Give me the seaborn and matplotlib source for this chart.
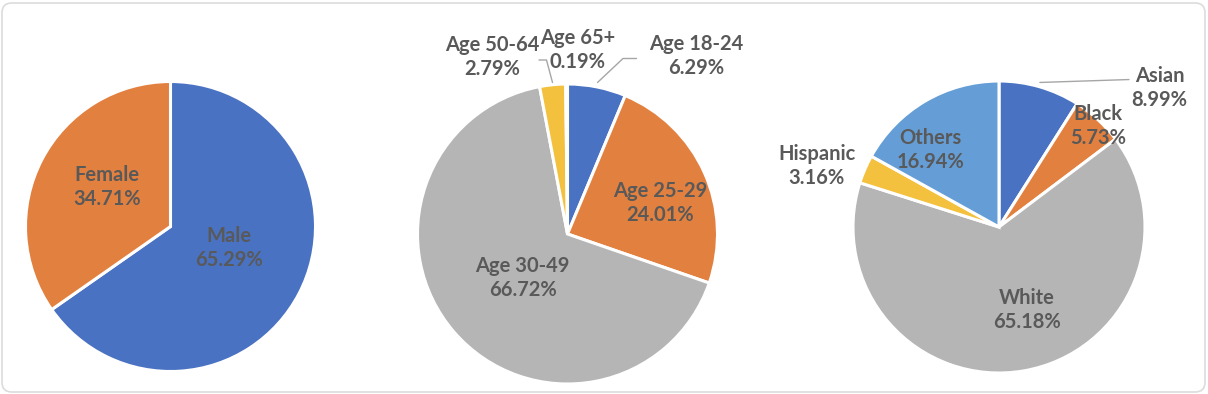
import numpy as np
import matplotlib
matplotlib.use("Agg")
import matplotlib.pyplot as plt
import seaborn as sns
from matplotlib.patches import FancyBboxPatch

sns.set_theme(style="white")
plt.rcParams["font.family"] = ["Lato", "DejaVu Sans"]

# data
gender_labels = ["Male", "Female"]
gender_values = [65.29, 34.71]

age_labels = ["Age 18-24", "Age 25-29", "Age 30-49", "Age 50-64", "Age 65+"]
age_values = [6.29, 24.01, 66.72, 2.79, 0.19]

race_labels = ["Asian", "Black", "White", "Hispanic", "Others"]
race_values = [8.99, 5.73, 65.18, 3.16, 16.94]

# office-ish colours
blue, orange, gray, yellow, lblue = "#4A72C2", "#E2803F", "#B5B5B5", "#F4C13E", "#659ED6"
gender_colors = [blue, orange]
age_colors = [blue, orange, gray, yellow, lblue]
race_colors = [blue, orange, gray, yellow, lblue]

# label positions (axes data units, pie radius = 1)
gender_pos = [(0.40, -0.15), (-0.44, 0.27)]
age_pos = [(0.86, 1.19), (0.62, 0.21), (-0.30, -0.29), (-0.50, 1.18), (0.07, 1.23)]
race_pos = [(1.10, 0.95), (0.68, 0.69), (0.19, -0.57), (-1.25, 0.42), (-0.47, 0.53)]

# leader lines
age_leaders = {0: [(0.20, 1.01), (0.37, 1.17), (0.46, 1.17)],
               3: [(-0.10, 1.01), (-0.14, 1.16), (-0.19, 1.16)]}
race_leaders = {0: [(0.28, 0.99), (0.89, 1.01)]}

W, H = 1208, 394
fig = plt.figure(figsize=(W / 100, H / 100), dpi=100)
fig.patch.set_facecolor("white")

# rounded frame around everything
frame = FancyBboxPatch((2 / W, 2 / H), (W - 5) / W, (H - 5) / H,
                       boxstyle="round,pad=0,rounding_size=0.008",
                       transform=fig.transFigure, facecolor="none",
                       edgecolor="#DCDCDC", linewidth=1.2, mutation_aspect=W / H,
                       zorder=-5)
fig.patches.append(frame)

txt_color = "#595959"


def draw_pie(cx, cy, r, values, labels, colors, pos, leaders):
    ax = fig.add_axes([(cx - r) / W, (H - cy - r) / H, 2 * r / W, 2 * r / H])
    ax.patch.set_alpha(0)
    ax.pie(values, colors=colors, startangle=90, counterclock=False,
           wedgeprops=dict(edgecolor="white", linewidth=2.2))
    ax.set_xlim(-1, 1)
    ax.set_ylim(-1, 1)
    ax.set_aspect("equal")
    ax.axis("off")
    for lab, val, (x, y) in zip(labels, values, pos):
        ax.text(x, y, f"{lab}\n{val:.2f}%", ha="center", va="center",
                fontsize=14.5, fontweight="bold", color=txt_color,
                linespacing=1.25, clip_on=False)
    for pts in leaders.values():
        xs, ys = zip(*pts)
        ax.plot(xs, ys, color="#A6A6A6", lw=1, clip_on=False)
    return ax


draw_pie(170.5, 226.5, 145, gender_values, gender_labels, gender_colors, gender_pos, {})
draw_pie(567.5, 234, 150, age_values, age_labels, age_colors, age_pos, age_leaders)
draw_pie(999, 227, 146, race_values, race_labels, race_colors, race_pos, race_leaders)

fig.savefig("out.png", dpi=100)
